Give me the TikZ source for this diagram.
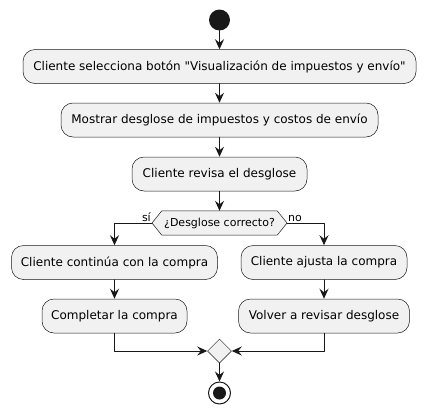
\documentclass[tikz,border=0pt]{standalone}
\usepackage{fontspec}
\setmainfont{DejaVu Sans}[Ligatures=TeXOff]
\usetikzlibrary{arrows.meta,shapes.geometric}
\definecolor{fondo}{HTML}{F1F1F1}
\definecolor{linea}{HTML}{181818}
\begin{document}
\begin{tikzpicture}[x=1pt,y=-1pt,>={Stealth[length=10pt,width=9pt,inset=3.5pt]}, font=\fontsize{12}{14}\selectfont, line join=round, line cap=round,
accion/.style={draw=linea,line width=0.5pt,fill=fondo,rounded corners=12pt,minimum height=34pt,inner sep=0pt},
flecha/.style={->,draw=linea,line width=1pt}]
\def\xc{219.5} \def\xl{114.5} \def\xr{324} % columnas
\useasboundingbox (0,0) rectangle (425,415);
% inicio
\node[circle,fill=linea,minimum size=21pt,inner sep=0pt] (inicio) at (\xc,20) {};
\node[accion,minimum width=393pt] (a1) at (\xc,66.5) {Cliente selecciona botón "Visualización de impuestos y envío"};
\node[accion,minimum width=317pt] (a2) at (\xc,120) {Mostrar desglose de impuestos y costos de envío};
\node[accion,minimum width=175pt] (a3) at (\xc,174) {Cliente revisa el desglose};
% decision
\node[minimum width=115pt,minimum height=24pt,inner sep=0pt] (dec) at (\xc,223) {};
\coordinate (izq) at (152,223);
\coordinate (der) at (287,223);
\draw[draw=linea,line width=0.5pt,fill=fondo] (izq) -- (dec.north west) -- (dec.north east) -- (der) -- (dec.south east) -- (dec.south west) -- cycle;
\node[font=\fontsize{11}{13}\selectfont] (dectxt) at (dec) {¿Desglose correcto?};
\node[anchor=south east,inner sep=1pt,font=\fontsize{11}{13}\selectfont] (si) at (izq) {sí};
\node[anchor=south west,inner sep=1pt,font=\fontsize{11}{13}\selectfont] (no) at (der) {no};
% ramas
\node[accion,minimum width=206pt] (b1) at (\xl,262.5) {Cliente continúa con la compra};
\node[accion,minimum width=145pt] (b2) at (\xl,316) {Completar la compra};
\node[accion,minimum width=166pt] (c1) at (\xr,262.5) {Cliente ajusta la compra};
\node[accion,minimum width=171pt] (c2) at (\xr,316) {Volver a revisar desglose};
% union y fin
\node[diamond,draw=linea,line width=0.5pt,fill=fondo,minimum size=24pt,inner sep=0pt] (union) at (\xc,351) {};
\node[circle,draw=linea,line width=1pt,fill=white,minimum size=22pt,inner sep=0pt] (fin) at (\xc,393) {};
\fill[linea] (fin) circle (6.5pt);
% flechas
\draw[flecha] (inicio) -- (a1);
\draw[flecha] (a1) -- (a2);
\draw[flecha] (a2) -- (a3);
\draw[flecha] (a3) -- (dec.north);
\draw[flecha] (izq) -| (b1.north);
\draw[flecha] (der) -| (c1.north);
\draw[flecha] (b1) -- (b2);
\draw[flecha] (c1) -- (c2);
\draw[flecha] (b2.south) |- (union.west);
\draw[flecha] (c2.south) |- (union.east);
\draw[flecha] (union) -- (fin);
\end{tikzpicture}
\end{document}
